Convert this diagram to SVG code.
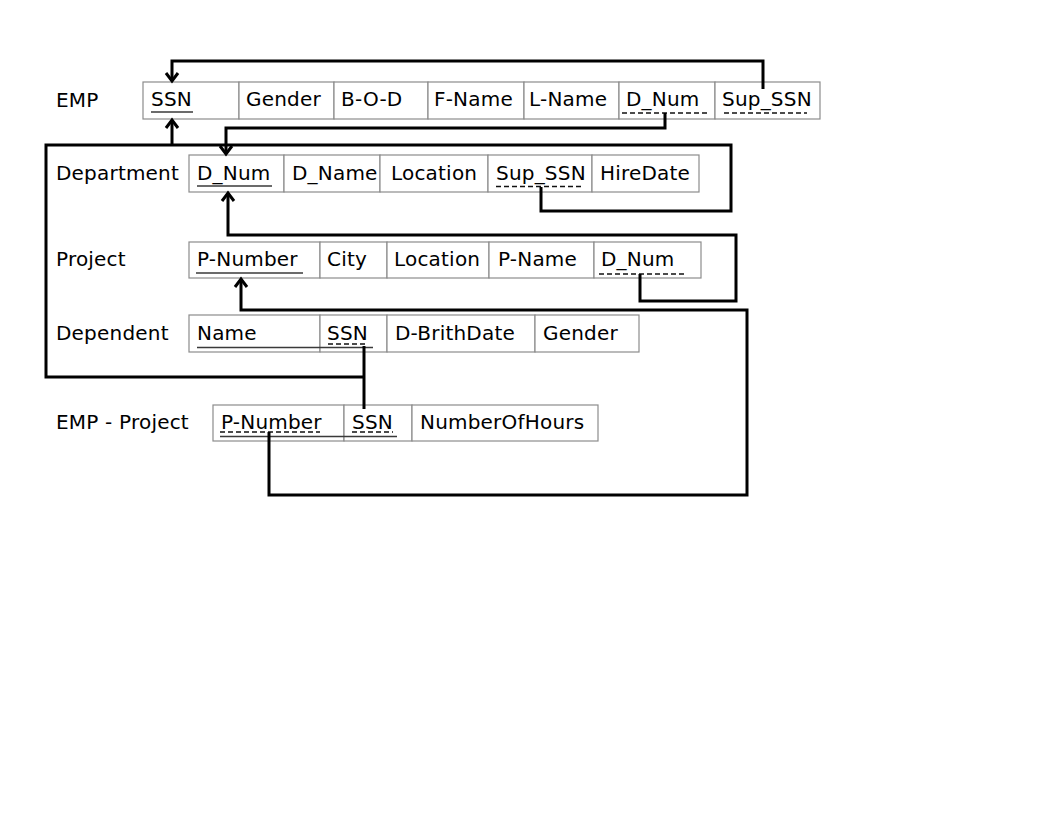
<svg xmlns="http://www.w3.org/2000/svg" width="1056" height="816" viewBox="0 0 1056 816">
<style>
text{font-family:"DejaVu Sans","Liberation Sans",sans-serif;font-size:20px;fill:#000;letter-spacing:0.2px}
.cell{fill:#fff;stroke:#8c8c8c;stroke-width:1.2}
.pk{stroke:#3a3a3a;stroke-width:1.5;fill:none}
.fk{stroke:#111;stroke-width:1.3;stroke-dasharray:5 3;fill:none}
.conn{fill:none;stroke:#000;stroke-width:3}
</style>
<defs>
<marker id="arr" viewBox="-10 -10 20 20" refX="0" refY="0" markerWidth="20" markerHeight="20" markerUnits="userSpaceOnUse" orient="auto">
<path d="M-8,-6 L0,0 L-8,6" fill="none" stroke="#000" stroke-width="3"/>
</marker>
</defs>
<rect width="1056" height="816" fill="#fff"/>

<g id="emp">
<text x="56" y="107">EMP</text>
<rect class="cell" x="143" y="82" width="96" height="37"/>
<rect class="cell" x="239" y="82" width="95" height="37"/>
<rect class="cell" x="334" y="82" width="94" height="37"/>
<rect class="cell" x="428" y="82" width="96" height="37"/>
<rect class="cell" x="524" y="82" width="95" height="37"/>
<rect class="cell" x="619" y="82" width="96" height="37"/>
<rect class="cell" x="715" y="82" width="105" height="37"/>
<text x="151" y="106">SSN</text>
<text x="246" y="106">Gender</text>
<text x="341" y="106">B-O-D</text>
<text x="434" y="106">F-Name</text>
<text x="529" y="106">L-Name</text>
<text x="626" y="106">D_Num</text>
<text x="722" y="106">Sup_SSN</text>
<line class="pk" x1="151" y1="112" x2="193" y2="112"/>
<line class="fk" x1="622" y1="113" x2="710" y2="113"/>
<line class="fk" x1="724" y1="113" x2="807" y2="113"/>
</g>

<g id="department">
<text x="56" y="180">Department</text>
<rect class="cell" x="189" y="155" width="95" height="37"/>
<rect class="cell" x="284" y="155" width="96" height="37"/>
<rect class="cell" x="380" y="155" width="108" height="37"/>
<rect class="cell" x="488" y="155" width="104" height="37"/>
<rect class="cell" x="592" y="155" width="107" height="37"/>
<text x="197" y="180">D_Num</text>
<text x="292" y="180">D_Name</text>
<text x="391" y="180">Location</text>
<text x="496" y="180">Sup_SSN</text>
<text x="600" y="180">HireDate</text>
<line class="pk" x1="197" y1="186" x2="272" y2="186"/>
<line class="fk" x1="496" y1="186.5" x2="582" y2="186.5"/>
</g>

<g id="project">
<text x="56" y="266">Project</text>
<rect class="cell" x="189" y="242" width="131" height="36"/>
<rect class="cell" x="320" y="242" width="67" height="36"/>
<rect class="cell" x="387" y="242" width="102" height="36"/>
<rect class="cell" x="489" y="242" width="105" height="36"/>
<rect class="cell" x="594" y="242" width="107" height="36"/>
<text x="197" y="266">P-Number</text>
<text x="327" y="266">City</text>
<text x="394" y="266">Location</text>
<text x="498" y="266">P-Name</text>
<text x="601" y="266">D_Num</text>
<line class="pk" x1="196" y1="273" x2="303" y2="273"/>
<line class="fk" x1="599" y1="274" x2="686" y2="274"/>
</g>

<g id="dependent">
<text x="56" y="340">Dependent</text>
<rect class="cell" x="189" y="315" width="131" height="37"/>
<rect class="cell" x="320" y="315" width="67" height="37"/>
<rect class="cell" x="387" y="315" width="148" height="37"/>
<rect class="cell" x="535" y="315" width="104" height="37"/>
<text x="197" y="340">Name</text>
<text x="327" y="340">SSN</text>
<text x="395" y="340">D-BrithDate</text>
<text x="543" y="340">Gender</text>
<line class="pk" x1="197" y1="347.5" x2="373" y2="347.5"/>
<line class="fk" x1="328" y1="344" x2="368" y2="344"/>
</g>

<g id="emp-project">
<text x="56" y="429">EMP - Project</text>
<rect class="cell" x="213" y="405" width="131" height="36"/>
<rect class="cell" x="344" y="405" width="68" height="36"/>
<rect class="cell" x="412" y="405" width="186" height="36"/>
<text x="221" y="429">P-Number</text>
<text x="352" y="429">SSN</text>
<text x="420" y="429">NumberOfHours</text>
<line class="fk" x1="220" y1="432" x2="320" y2="432"/>
<line class="fk" x1="352" y1="432" x2="393" y2="432"/>
<line class="pk" x1="220" y1="436.5" x2="397" y2="436.5"/>
</g>

<g id="connectors">
<path class="conn" d="M763,89 V61 H172 V81" marker-end="url(#arr)"/>
<path class="conn" d="M665,113 V128 H226 V154" marker-end="url(#arr)"/>
<path class="conn" d="M172,145 V120" marker-end="url(#arr)"/>
<path class="conn" d="M541,187 V211 H731 V145 H46 V377 H364"/>
<path class="conn" d="M364,346 V409"/>
<path class="conn" d="M640,274 V301 H736 V235 H228 V193" marker-end="url(#arr)"/>
<path class="conn" d="M269,432 V495 H747 V310 H241 V279" marker-end="url(#arr)"/>
</g>
</svg>
